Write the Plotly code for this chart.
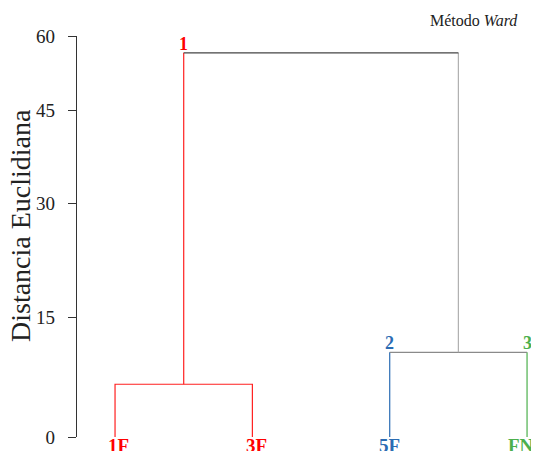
import numpy as np
import plotly.graph_objects as go

# --- data ---
leaves = ["1F", "3F", "5F", "FN"]
leaf_pos = [1, 2, 3, 4]
leaf_colors = ["#ff0000", "#ff0000", "#2b6cb3", "#4cb04c"]
merge_heights = {"1F-3F": 6.6, "5F-FN": 10.6, "top": 56.6}
cluster_labels = ["1", "2", "3"]
cluster_colors = ["#ff0000", "#2b6cb3", "#4cb04c"]
y_ticks = [0, 15, 30, 45, 60]
# display position of each tick along the axis (axis drawn non-uniformly in the original)
y_tick_disp = [0, 17.93, 34.97, 48.87, 60]

W, H = 531, 443
L, R, T, B = 69, 0, 28, 14
PW, PH = W - L - R, H - T - B
leaf_label_shift = [3, 4, 0, -6]


def warp(v):
    return float(np.interp(v, y_ticks, y_tick_disp))


def px_x(px):
    return (px - L) / PW


def px_y(py):
    return (H - B - py) / PH


fig = go.Figure()


def seg(xs, ys, color, width=1.2):
    fig.add_trace(go.Scatter(x=xs, y=[warp(v) for v in ys], mode="lines",
                             line=dict(color=color, width=width),
                             hoverinfo="skip", showlegend=False, cliponaxis=False))


h1 = merge_heights["1F-3F"]
h2 = merge_heights["5F-FN"]
ht = merge_heights["top"]
m1 = (leaf_pos[0] + leaf_pos[1]) / 2
m2 = (leaf_pos[2] + leaf_pos[3]) / 2

seg([leaf_pos[0], leaf_pos[0], leaf_pos[1], leaf_pos[1]], [0, h1, h1, 0], "#ff2020")
seg([m1, m1], [h1, ht], "#ff2020")
seg([leaf_pos[2], leaf_pos[2]], [0, h2], leaf_colors[2])
seg([leaf_pos[3], leaf_pos[3]], [0, h2], leaf_colors[3])
seg([leaf_pos[2], leaf_pos[3]], [h2, h2], "#8a8a8a")
seg([m2, m2], [h2, ht], "#b0b0b0")
seg([m1, m2], [ht, ht], "#444444")

annotations = []
for name, x, c, sh in zip(leaves, leaf_pos, leaf_colors, leaf_label_shift):
    annotations.append(dict(x=x, y=0, xref="x", yref="y", text="<b>%s</b>" % name,
                            showarrow=False, yanchor="top", yshift=4, xshift=sh,
                            font=dict(family="Liberation Serif", size=19, color=c)))
for lab, x, h, c in zip(cluster_labels, [m1, leaf_pos[2], leaf_pos[3]], [ht, h2, h2], cluster_colors):
    annotations.append(dict(x=x, y=warp(h), xref="x", yref="y", text="<b>%s</b>" % lab,
                            showarrow=False, yanchor="bottom", yshift=-3,
                            font=dict(family="Liberation Serif", size=18, color=c)))
annotations.append(dict(x=px_x(512), y=px_y(12), xref="paper", yref="paper",
                        text="Método <i>Ward</i>", showarrow=False,
                        xanchor="right", yanchor="middle",
                        font=dict(family="Liberation Serif", size=16, color="#222")))
annotations.append(dict(x=px_x(12), y=px_y(218), xref="paper", yref="paper",
                        text="Distancia Euclidiana", showarrow=False, textangle=-90,
                        xanchor="center", yanchor="middle",
                        font=dict(family="Liberation Serif", size=28, color="#222")))

fig.update_layout(
    width=W, height=H,
    margin=dict(l=L, r=R, t=T, b=B),
    plot_bgcolor="white", paper_bgcolor="white",
    showlegend=False,
    xaxis=dict(range=[0.723, 4.087], visible=False, showgrid=False, zeroline=False),
    yaxis=dict(range=[0, 60], tickmode="array", tickvals=y_tick_disp,
               ticktext=[str(t) for t in y_ticks], ticks="outside", ticklen=8,
               tickcolor="#333", showline=True, linecolor="#333", linewidth=1.2,
               showgrid=False, zeroline=False, ticklabelstandoff=9,
               tickfont=dict(family="Liberation Serif", size=19, color="#222")),
    annotations=annotations,
)
fig.write_html("out.html")
